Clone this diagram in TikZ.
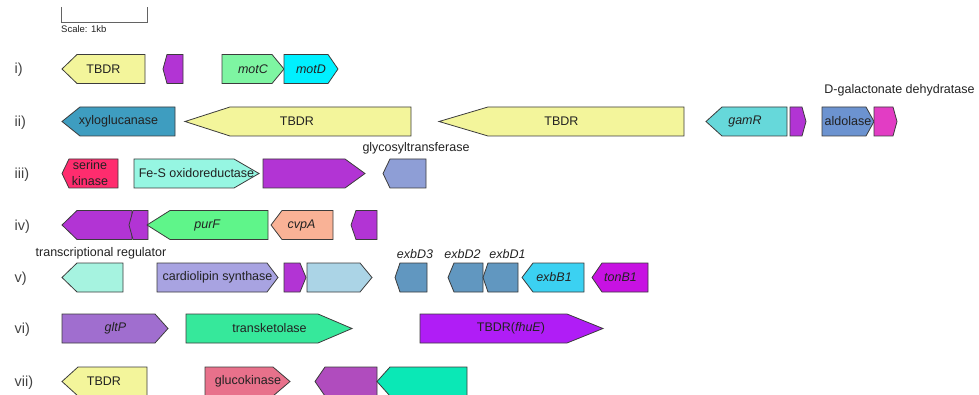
\documentclass[tikz,border=0pt]{standalone}
\usepackage{fontspec}
\setmainfont{Liberation Sans}
\definecolor{edge}{HTML}{3C3C3C}
\definecolor{tbdr}{HTML}{F3F59B}
\definecolor{purp}{HTML}{B234D4}
\definecolor{motc}{HTML}{7EF5A2}
\definecolor{motd}{HTML}{00F0FF}
\definecolor{xylo}{HTML}{3E9DC0}
\definecolor{gamr}{HTML}{66D8DA}
\definecolor{aldo}{HTML}{6C93D0}
\definecolor{dgal}{HTML}{E23DC4}
\definecolor{serk}{HTML}{FF2C6E}
\definecolor{fes}{HTML}{96F6E2}
\definecolor{glyc}{HTML}{8E9ED6}
\definecolor{purf}{HTML}{5FF58A}
\definecolor{cvpa}{HTML}{F9B296}
\definecolor{treg}{HTML}{A6F3E0}
\definecolor{card}{HTML}{A8A3E1}
\definecolor{lblue}{HTML}{ABD4E6}
\definecolor{exbd}{HTML}{6197C0}
\definecolor{exbb}{HTML}{3BD1F2}
\definecolor{tonb}{HTML}{C712E2}
\definecolor{gltp}{HTML}{A06ECF}
\definecolor{tket}{HTML}{36E89B}
\definecolor{fhue}{HTML}{B01DF6}
\definecolor{gluk}{HTML}{E8718B}
\definecolor{purb}{HTML}{B04CBE}
\definecolor{tealb}{HTML}{0AE8B6}
\definecolor{txt}{HTML}{222222}
% forward gene: left, corner, tip, ycenter, colour
\newcommand\geneF[5]{\filldraw[gene,fill=#5] (#1,#4-14.5) -- (#2,#4-14.5) -- (#3,#4) -- (#2,#4+14.5) -- (#1,#4+14.5) -- cycle;}
% reverse gene: tip, corner, right, ycenter, colour
\newcommand\geneR[5]{\filldraw[gene,fill=#5] (#1,#4) -- (#2,#4-14.5) -- (#3,#4-14.5) -- (#3,#4+14.5) -- (#2,#4+14.5) -- cycle;}
\begin{document}
\begin{tikzpicture}[x=1pt,y=-1pt,
  gene/.style={draw=edge,line width=0.8pt,line join=miter},
  glab/.style={inner sep=0pt,text=txt,font=\fontsize{12.5}{15}\selectfont},
  rowlab/.style={inner sep=0pt,anchor=west,text=txt!85,font=\fontsize{14.5}{16}\selectfont},
  note/.style={inner sep=0pt,text=txt,font=\fontsize{12.5}{15}\selectfont}]
\useasboundingbox (0,0) rectangle (979,395);
% scale bar
\draw[edge!80,line width=0.8pt] (61,7) -- (61,22) -- (147,22) -- (147,7);
\node[inner sep=0pt,anchor=west,text=txt,font=\fontsize{9.5}{11}\selectfont] (scale) at (61,29) {Scale: 1kb};
% row labels
\node[rowlab] (r1) at (14.5,70) {i)};
\node[rowlab] (r2) at (14.5,122.5) {ii)};
\node[rowlab] (r3) at (14.5,174.5) {iii)};
\node[rowlab] (r4) at (14.5,226.5) {iv)};
\node[rowlab] (r5) at (14.5,278.5) {v)};
\node[rowlab] (r6) at (14.5,329.5) {vi)};
\node[rowlab] (r7) at (14.5,382.5) {vii)};
% row i
\geneR{62}{77}{145}{69}{tbdr}
\node[glab] (i1) at (103.5,69) {TBDR};
\geneR{163}{167}{183}{69}{purp}
\geneF{222}{272}{284}{69}{motc}
\node[glab] (i3) at (253,69) {\textit{motC}};
\geneF{284}{328}{338}{69}{motd}
\node[glab] (i4) at (311,69) {\textit{motD}};
% row ii
\geneR{62}{80}{175}{121.5}{xylo}
\node[glab] (ii1) at (118.5,121.5) {xyloglucanase};
\geneR{185}{230}{411}{121.5}{tbdr}
\node[glab] (ii2) at (297,121.5) {TBDR};
\geneR{439}{488}{684}{121.5}{tbdr}
\node[glab] (ii3) at (561.5,121.5) {TBDR};
\geneR{706}{722}{787}{121.5}{gamr}
\node[glab] (ii4) at (745,121.5) {\textit{gamR}};
\geneF{790}{802}{806}{121.5}{purp}
\geneF{822}{866}{874}{121.5}{aldo}
\node[glab] (ii6) at (848,121.5) {aldolase};
\geneF{874}{893}{897}{121.5}{dgal}
\node[note] (dgal) at (899.5,90) {D-galactonate dehydratase};
% row iii
\geneR{62}{69}{118}{173.5}{serk}
\node[glab,align=center,font=\fontsize{12.5}{16}\selectfont] (iii1) at (90,173.5) {serine\\kinase};
\geneF{134}{234}{259}{173.5}{fes}
\node[glab] (iii2) at (196.5,173.5) {Fe-S oxidoreductase};
\geneF{263}{345}{365}{173.5}{purp}
\geneR{383}{390}{426}{173.5}{glyc}
\node[note] (glyc) at (416,148) {glycosyltransferase};
% row iv
\geneR{62}{77}{132}{225}{purp}
\geneR{129}{133}{148}{225}{purp}
\geneR{147}{170}{268}{225}{purf}
\node[glab] (iv3) at (207.5,225) {\textit{purF}};
\geneR{271}{282}{333}{225}{cvpa}
\node[glab] (iv4) at (301.5,225) {\textit{cvpA}};
\geneR{351}{356}{377}{225}{purp}
% row v
\geneR{62}{77}{123}{277.5}{treg}
\node[note] (treg) at (101,253) {transcriptional regulator};
\geneF{157}{267}{278}{277.5}{card}
\node[glab] (v2) at (217.5,277.5) {cardiolipin synthase};
\geneF{284}{300}{306}{277.5}{purp}
\geneF{307}{360}{372}{277.5}{lblue}
\geneR{395}{400}{427}{277.5}{exbd}
\node[note] (exbd3) at (415,254) {\textit{exbD3}};
\geneR{448}{454}{483}{277.5}{exbd}
\node[note] (exbd2) at (462.5,254) {\textit{exbD2}};
\geneR{483}{488}{518}{277.5}{exbd}
\node[note] (exbd1) at (507.5,254) {\textit{exbD1}};
\geneR{522}{533}{584}{277.5}{exbb}
\node[glab] (v8) at (554,277.5) {\textit{exbB1}};
\geneR{592}{602}{648}{277.5}{tonb}
\node[glab] (v9) at (620.5,277.5) {\textit{tonB1}};
% row vi
\geneF{62}{155}{168}{328.5}{gltp}
\node[glab] (vi1) at (115.5,328.5) {\textit{gltP}};
\geneF{186}{318}{352}{328.5}{tket}
\node[glab] (vi2) at (269.5,328.5) {transketolase};
\geneF{420}{567}{603}{328.5}{fhue}
\node[glab] (vi3) at (511,328.5) {TBDR(\textit{fhuE})};
% row vii
\geneR{62}{78}{147}{381.5}{tbdr}
\node[glab] (vii1) at (104,381.5) {TBDR};
\geneF{205}{273}{290}{381.5}{gluk}
\node[glab] (vii2) at (248,381.5) {glucokinase};
\geneR{315}{325}{377}{381.5}{purb}
\geneR{377}{390}{467}{381.5}{tealb}
\end{tikzpicture}
\end{document}
